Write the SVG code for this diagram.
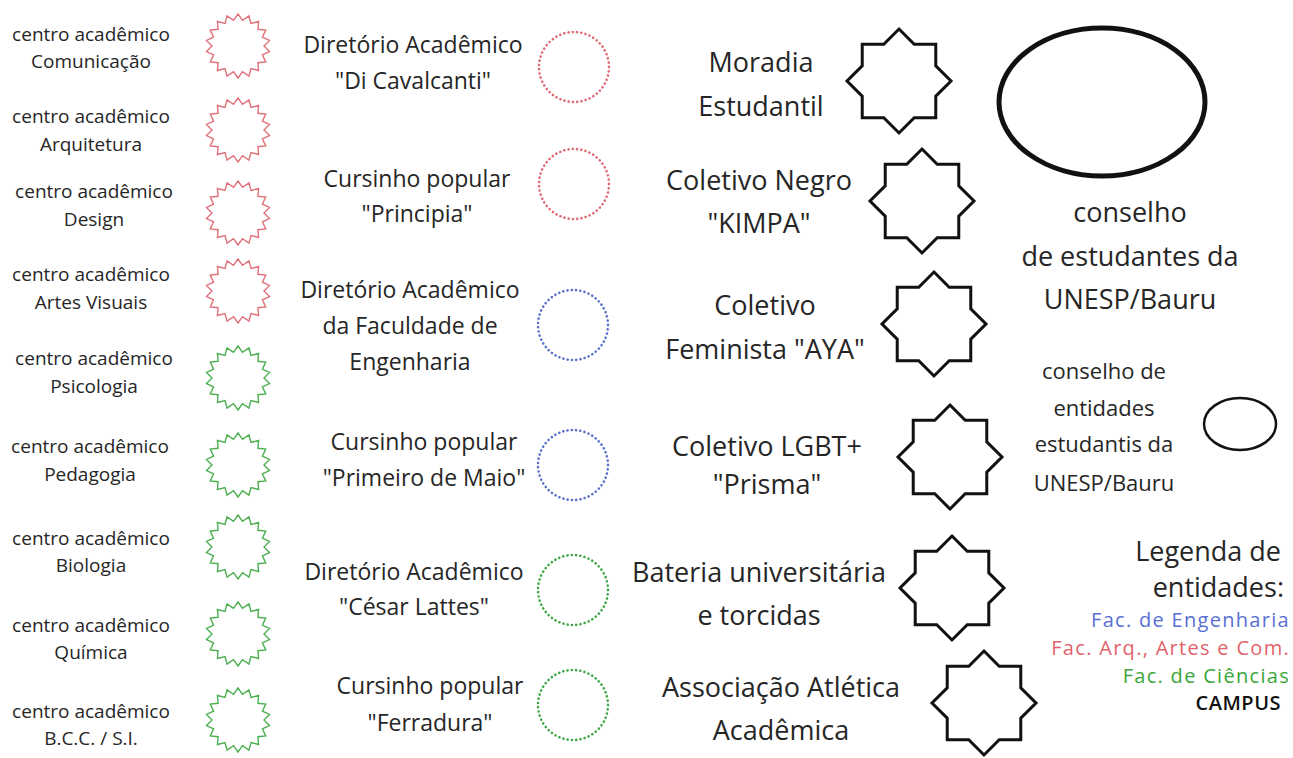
<svg xmlns="http://www.w3.org/2000/svg" xmlns:xlink="http://www.w3.org/1999/xlink" width="1293" height="758" viewBox="0 0 1293 758">
<style>
text{font-family:"Open Sans","Noto Sans","Liberation Sans",sans-serif;fill:#262626;text-anchor:middle}
.s1{font-size:19px}
.s2{font-size:23px}
.s3{font-size:27px}
.s4{font-size:22px}
.lg{font-size:20px;letter-spacing:1.3px;text-anchor:end}
.zr{fill:none;stroke:#e0707a;stroke-width:1.4;stroke-linejoin:miter}
.zg{fill:none;stroke:#4caf50;stroke-width:1.4;stroke-linejoin:miter}
.dot{fill:none;stroke-width:2.6;stroke-linecap:round;stroke-dasharray:0.1 4.2}
.dr{stroke:#e06a74}
.db{stroke:#5a72cc}
.dg{stroke:#3fa845}
.st{fill:none;stroke:#111;stroke-width:3;stroke-linejoin:miter}
</style>
<defs>
<path id="zz" d="M0,-32 L4.51,-25.6 L10.94,-30.07 L13,-22.52 L20.57,-24.51 L19.92,-16.71 L27.71,-16 L24.43,-8.89 L31.51,-5.56 L26,0 L31.51,5.56 L24.43,8.89 L27.71,16 L19.92,16.71 L20.57,24.51 L13,22.52 L10.94,30.07 L4.51,25.6 L0,32 L-4.51,25.6 L-10.94,30.07 L-13,22.52 L-20.57,24.51 L-19.92,16.71 L-27.71,16 L-24.43,8.89 L-31.51,5.56 L-26,0 L-31.51,-5.56 L-24.43,-8.89 L-27.71,-16 L-19.92,-16.71 L-20.57,-24.51 L-13,-22.52 L-10.94,-30.07 L-4.51,-25.6 Z"/>
<path id="st8" d="M0,-52 L15.23,-36.77 L36.77,-36.77 L36.77,-15.23 L52,0 L36.77,15.23 L36.77,36.77 L15.23,36.77 L0,52 L-15.23,36.77 L-36.77,36.77 L-36.77,15.23 L-52,0 L-36.77,-15.23 L-36.77,-36.77 L-15.23,-36.77 Z"/>
</defs>
<rect width="1293" height="758" fill="#fff"/>
<g id="connectors"></g>

<g id="ca-comunicacao"><text class="s1" x="91" y="41">centro acadêmico</text><text class="s1" x="91" y="68">Comunicação</text><use href="#zz" x="238" y="46" class="zr"/></g>
<g id="ca-arquitetura"><text class="s1" x="91" y="123">centro acadêmico</text><text class="s1" x="91" y="151">Arquitetura</text><use href="#zz" x="238" y="130" class="zr"/></g>
<g id="ca-design"><text class="s1" x="94" y="198">centro acadêmico</text><text class="s1" x="94" y="226">Design</text><use href="#zz" x="238" y="213" class="zr"/></g>
<g id="ca-artes"><text class="s1" x="91" y="281">centro acadêmico</text><text class="s1" x="91" y="309">Artes Visuais</text><use href="#zz" x="238" y="291" class="zr"/></g>
<g id="ca-psicologia"><text class="s1" x="94" y="365">centro acadêmico</text><text class="s1" x="94" y="393">Psicologia</text><use href="#zz" x="238" y="378" class="zg"/></g>
<g id="ca-pedagogia"><text class="s1" x="90" y="453">centro acadêmico</text><text class="s1" x="90" y="481">Pedagogia</text><use href="#zz" x="238" y="465" class="zg"/></g>
<g id="ca-biologia"><text class="s1" x="91" y="545">centro acadêmico</text><text class="s1" x="91" y="572">Biologia</text><use href="#zz" x="238" y="547" class="zg"/></g>
<g id="ca-quimica"><text class="s1" x="91" y="632">centro acadêmico</text><text class="s1" x="91" y="659">Química</text><use href="#zz" x="238" y="634" class="zg"/></g>
<g id="ca-bcc"><text class="s1" x="91" y="718">centro acadêmico</text><text class="s1" x="91" y="745">B.C.C. / S.I.</text><use href="#zz" x="238" y="720" class="zg"/></g>

<g id="da-dicavalcanti"><text class="s2" x="413" y="53">Diretório Acadêmico</text><text class="s2" x="413" y="89">"Di Cavalcanti"</text><circle cx="574" cy="67" r="35" class="dot dr"/></g>
<g id="cp-principia"><text class="s2" x="417" y="187">Cursinho popular</text><text class="s2" x="417" y="222">"Principia"</text><circle cx="574" cy="184" r="35" class="dot dr"/></g>
<g id="da-engenharia"><text class="s2" x="410" y="298">Diretório Acadêmico</text><text class="s2" x="410" y="334">da Faculdade de</text><text class="s2" x="410" y="370">Engenharia</text><circle cx="573" cy="325" r="35" class="dot db"/></g>
<g id="cp-primeiro"><text class="s2" x="424" y="450">Cursinho popular</text><text class="s2" x="424" y="486">"Primeiro de Maio"</text><circle cx="573" cy="465" r="35" class="dot db"/></g>
<g id="da-cesar"><text class="s2" x="414" y="580">Diretório Acadêmico</text><text class="s2" x="414" y="615">"César Lattes"</text><circle cx="573" cy="590" r="35" class="dot dg"/></g>
<g id="cp-ferradura"><text class="s2" x="430" y="694">Cursinho popular</text><text class="s2" x="430" y="731">"Ferradura"</text><circle cx="573" cy="705" r="35" class="dot dg"/></g>

<g id="moradia"><text class="s3" x="761" y="72">Moradia</text><text class="s3" x="761" y="116">Estudantil</text><use href="#st8" x="899" y="81" class="st"/></g>
<g id="coletivo-negro"><text class="s3" x="759" y="190">Coletivo Negro</text><text class="s3" x="759" y="233">"KIMPA"</text><use href="#st8" x="922" y="201" class="st"/></g>
<g id="coletivo-feminista"><text class="s3" x="765" y="315">Coletivo</text><text class="s3" x="765" y="359">Feminista "AYA"</text><use href="#st8" x="934" y="324" class="st"/></g>
<g id="coletivo-lgbt"><text class="s3" x="767" y="456">Coletivo LGBT+</text><text class="s3" x="767" y="494">"Prisma"</text><use href="#st8" x="950" y="457" class="st"/></g>
<g id="bateria"><text class="s3" x="759" y="582">Bateria universitária</text><text class="s3" x="759" y="625">e torcidas</text><use href="#st8" x="952" y="588" class="st"/></g>
<g id="atletica"><text class="s3" x="781" y="697">Associação Atlética</text><text class="s3" x="781" y="740">Acadêmica</text><use href="#st8" x="984" y="703" class="st"/></g>

<g id="conselho-estudantes"><ellipse cx="1102" cy="102" rx="103" ry="74" fill="none" stroke="#111" stroke-width="5"/><text class="s3" x="1130" y="222">conselho</text><text class="s3" x="1130" y="266">de estudantes da</text><text class="s3" x="1130" y="309">UNESP/Bauru</text></g>
<g id="conselho-entidades"><text class="s4" x="1104" y="379">conselho de</text><text class="s4" x="1104" y="416">entidades</text><text class="s4" x="1104" y="452">estudantis da</text><text class="s4" x="1104" y="491">UNESP/Bauru</text><ellipse cx="1240" cy="424" rx="36" ry="26" fill="none" stroke="#111" stroke-width="2.5"/></g>

<g id="legenda">
<text class="s3" x="1281" y="561" style="text-anchor:end">Legenda de</text>
<text class="s3" x="1284" y="597" style="text-anchor:end">entidades:</text>
<text class="lg" x="1290" y="627" style="fill:#5a6fd4">Fac. de Engenharia</text>
<text class="lg" x="1290" y="655" style="fill:#e0636b">Fac. Arq., Artes e Com.</text>
<text class="lg" x="1290" y="683" style="fill:#3da63b">Fac. de Ciências</text>
<text x="1281" y="710" style="text-anchor:end;font-size:20px;font-weight:600;letter-spacing:0.5px;fill:#111">CAMPUS</text>
</g>
</svg>
